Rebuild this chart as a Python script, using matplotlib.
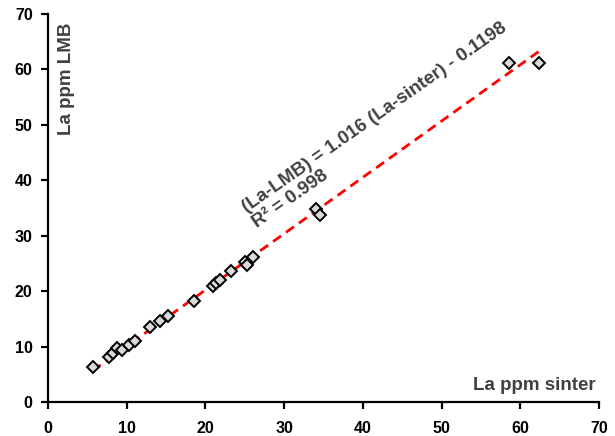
import numpy as np
import matplotlib
matplotlib.use("Agg")
import matplotlib.pyplot as plt

plt.rcParams['font.family'] = ['Liberation Sans', 'DejaVu Sans']
plt.rcParams['font.weight'] = 'bold'

# La ppm: sinter (x) vs LMB (y)
la_sinter = [5.7, 7.8, 8.3, 8.8, 9.4, 10.3, 11.0, 13.0, 14.2, 15.2, 18.5,
             21.0, 21.4, 21.9, 23.3, 25.0, 25.3, 26.1, 34.1, 34.5, 58.6, 62.4]
la_lmb = [6.3, 8.1, 8.8, 9.8, 9.3, 10.2, 11.0, 13.6, 14.7, 15.6, 18.3,
          21.0, 21.4, 22.0, 23.6, 25.2, 24.8, 26.1, 34.8, 33.8, 61.1, 61.2]

slope = 1.016
intercept = -0.1198
r2 = 0.998

text_col = '#404040'

fig = plt.figure(figsize=(6.15, 4.36), dpi=100)
ax = fig.add_axes([0.078, 0.078, 0.896, 0.89])

xs = np.array([min(la_sinter), max(la_sinter)])
ax.plot(xs, slope * xs + intercept, color='red', lw=2, ls=(0, (3.5, 2.2)), zorder=2)
ax.plot(la_sinter, la_lmb, ls='none', marker='D', ms=5.8, mfc='#d9d9d9',
        mec='black', mew=1.4, zorder=3)

ax.set_xlim(0, 70)
ax.set_ylim(0, 70)
ax.set_xticks(range(0, 71, 10))
ax.set_yticks(range(0, 71, 10))
for s in ['top', 'right']:
    ax.spines[s].set_visible(False)
for s in ['left', 'bottom']:
    ax.spines[s].set_linewidth(1.6)
ax.tick_params(direction='out', length=5, width=1.6, labelsize=11.5)
ax.tick_params(axis='x', pad=9)
ax.tick_params(axis='y', pad=6)

ax.text(0.993, 0.032, 'La ppm sinter', transform=ax.transAxes, ha='right',
        va='baseline', fontsize=13.5, color=text_col)
ax.text(0.019, 0.977, 'La ppm LMB', transform=ax.transAxes, ha='left',
        va='top', rotation=90, fontsize=13.5, color=text_col)

eq = '(La-LMB) = %.3f (La-sinter) - %.4f\nR\u00b2 = %.3f' % (slope, -intercept, r2)
ax.text(26.9, 30.8, eq, rotation=35, rotation_mode='anchor', ha='left',
        va='bottom', fontsize=13.5, color=text_col, linespacing=1.1)

fig.savefig('out.png', dpi=100)
